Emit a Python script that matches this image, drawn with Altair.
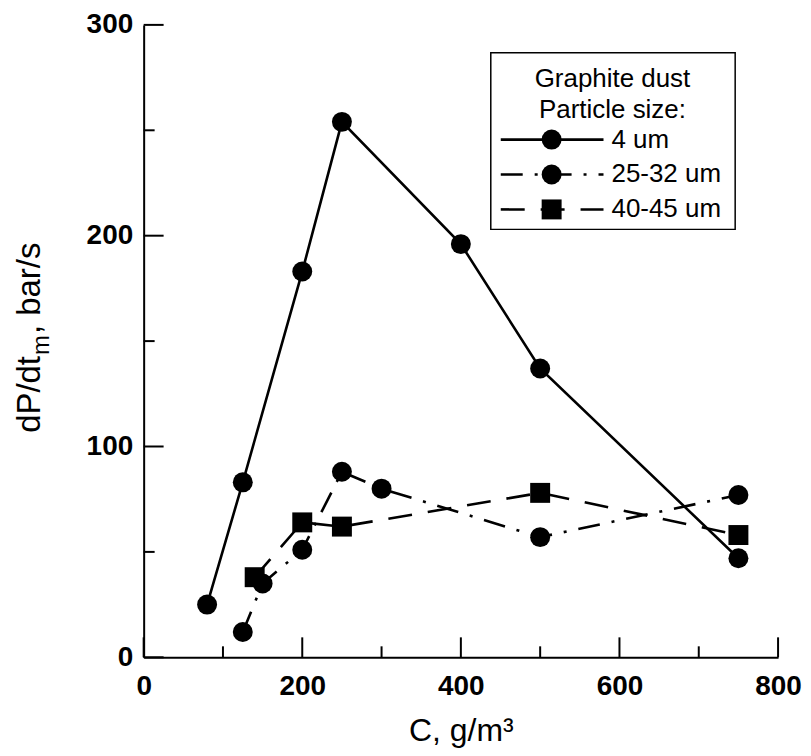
import altair as alt
import pandas as pd

# ---- data ----
x_4um = [80, 125, 200, 250, 400, 500, 750]
y_4um = [25, 83, 183, 254, 196, 137, 47]

x_25um = [125, 150, 200, 250, 300, 500, 750]
y_25um = [12, 35, 51, 88, 80, 57, 77]

x_40um = [140, 200, 250, 500, 750]
y_40um = [38, 64, 62, 78, 58]

x_major_ticks = [0, 200, 400, 600, 800]
x_minor_ticks = [100, 300, 500, 700]
y_major_ticks = [0, 100, 200, 300]
y_minor_ticks = [50, 150, 250]

legend_title = ["Graphite dust", "Particle size:"]
legend_labels = ["4 um", "25-32 um", "40-45 um"]
y_title_parts = ["dP/dt", "m", ", bar/s"]
x_title = "C, g/m³"

FONT = "Liberation Sans"
W, H = 636, 634

xs = alt.Scale(domain=[0, 800], nice=False)
ys = alt.Scale(domain=[0, 300], nice=False)

X = alt.X("x:Q", scale=xs, title=x_title,
          axis=alt.Axis(values=x_major_ticks, title=x_title, labelFlush=False,
                        labelPadding=15, titleX=W / 2, titleY=83,
                        titleBaseline="alphabetic", titleFontSize=32))
Y = alt.Y("y:Q", scale=ys, title="",
          axis=alt.Axis(values=y_major_ticks, title="", labelFlush=False,
                        labelPadding=11))

def df(xv, yv):
    return pd.DataFrame({"x": xv, "y": yv})

d4, d25, d40 = df(x_4um, y_4um), df(x_25um, y_25um), df(x_40um, y_40um)

DASH_25 = [22, 12, 3, 12]
DASH_40 = [24, 16]
SW = 2.6
MS = 400

line4 = alt.Chart(d4).mark_line(color="black", strokeWidth=SW).encode(x=X, y=Y)
line25 = alt.Chart(d25).mark_line(color="black", strokeWidth=SW, strokeDash=DASH_25).encode(x=X, y=Y)
line40 = alt.Chart(d40).mark_line(color="black", strokeWidth=SW, strokeDash=DASH_40).encode(x=X, y=Y)

pt_kw = dict(filled=True, color="black", opacity=1, size=MS, strokeWidth=0)
pts4 = alt.Chart(d4).mark_point(shape="circle", **pt_kw).encode(x=X, y=Y)
pts25 = alt.Chart(d25).mark_point(shape="circle", **pt_kw).encode(x=X, y=Y)
pts40 = alt.Chart(d40).mark_point(shape="square", **pt_kw).encode(x=X, y=Y)

# inward ticks
ymaj = alt.Chart(pd.DataFrame({"y": y_major_ticks})).mark_rule(color="black", strokeWidth=2).encode(
    y=Y, x=alt.value(0), x2=alt.value(20))
ymin = alt.Chart(pd.DataFrame({"y": y_minor_ticks})).mark_rule(color="black", strokeWidth=2).encode(
    y=Y, x=alt.value(0), x2=alt.value(11))
xmaj = alt.Chart(pd.DataFrame({"x": x_major_ticks})).mark_rule(color="black", strokeWidth=2).encode(
    x=X, y=alt.value(H), y2=alt.value(H - 20))
xmin = alt.Chart(pd.DataFrame({"x": x_minor_ticks})).mark_rule(color="black", strokeWidth=2).encode(
    x=X, y=alt.value(H), y2=alt.value(H - 11))

one = alt.Data(values=[{"a": 1}])

# y-axis title with subscript m (rotated text)
yt_kw = dict(font=FONT, color="black", baseline="alphabetic", align="left", angle=270)
yt1 = alt.Chart(one).mark_text(fontSize=33, **yt_kw).encode(
    x=alt.value(-104), y=alt.value(409), text=alt.value(y_title_parts[0]))
yt2 = alt.Chart(one).mark_text(fontSize=24, **yt_kw).encode(
    x=alt.value(-95), y=alt.value(331), text=alt.value(y_title_parts[1]))
yt3 = alt.Chart(one).mark_text(fontSize=33, **yt_kw).encode(
    x=alt.value(-104), y=alt.value(310), text=alt.value(y_title_parts[2]))

# legend
box = alt.Chart(one).mark_rect(fill="white", stroke="black", strokeWidth=1.5).encode(
    x=alt.value(348), x2=alt.value(593), y=alt.value(28), y2=alt.value(205))

txt_kw = dict(font=FONT, fontSize=26, color="black", baseline="alphabetic")
lt1 = alt.Chart(one).mark_text(align="center", **txt_kw).encode(
    x=alt.value(470), y=alt.value(62), text=alt.value(legend_title[0]))
lt2 = alt.Chart(one).mark_text(align="center", **txt_kw).encode(
    x=alt.value(470), y=alt.value(93), text=alt.value(legend_title[1]))

leg_layers = []
rows_y = [115, 150, 185]
dashes = [None, DASH_25, DASH_40]
shapes = ["circle", "circle", "square"]
for lab, ry, dsh, shp in zip(legend_labels, rows_y, dashes, shapes):
    rkw = dict(color="black", strokeWidth=SW)
    if dsh is not None:
        rkw["strokeDash"] = dsh
    leg_layers.append(alt.Chart(one).mark_rule(**rkw).encode(
        x=alt.value(358), x2=alt.value(461), y=alt.value(ry)))
    leg_layers.append(alt.Chart(one).mark_point(shape=shp, **pt_kw).encode(
        x=alt.value(409), y=alt.value(ry)))
    leg_layers.append(alt.Chart(one).mark_text(align="left", **txt_kw).encode(
        x=alt.value(469), y=alt.value(ry + 8), text=alt.value(lab)))

chart = alt.layer(
    line4, line25, line40, pts4, pts25, pts40,
    ymaj, ymin, xmaj, xmin,
    yt1, yt2, yt3,
    box, lt1, lt2, *leg_layers
).properties(
    width=W, height=H, autosize="none",
    padding={"left": 136, "top": 16, "right": 25, "bottom": 90},
    background="white",
).configure_view(stroke=None).configure_axis(
    grid=False, ticks=False, tickSize=0, domainColor="black", domainWidth=2,
    labelFont=FONT, labelFontSize=28, labelFontWeight="bold", labelColor="black",
    titleFont=FONT, titleFontWeight="normal", titleColor="black",
)

chart.save("out.html", embed_options={"renderer": "svg", "actions": False})
